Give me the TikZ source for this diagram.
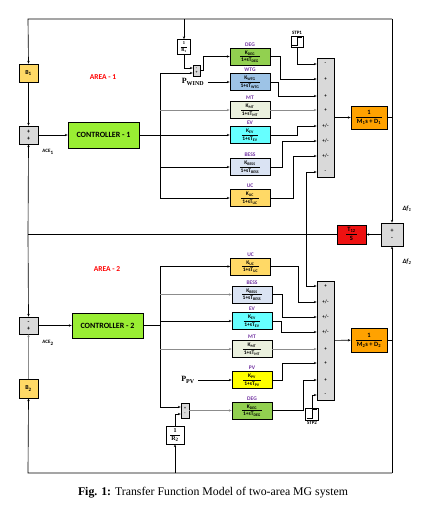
\documentclass[tikz,border=0pt]{standalone}
\usepackage{fontspec}
\setmainfont{Liberation Serif}
\setsansfont{Carlito}
\usepackage[HTML]{xcolor}
\usepackage{tikz}
\usetikzlibrary{positioning, arrows, arrows.meta}

\definecolor{degC}{HTML}{92D050}
\definecolor{wtgC}{HTML}{9DC3E6}
\definecolor{mtC}{HTML}{EBF1DE}
\definecolor{evC}{HTML}{66FFFF}
\definecolor{bessC}{HTML}{DAE3F3}
\definecolor{ucC}{HTML}{FFD966}
\definecolor{pvC}{HTML}{FFFF00}
\definecolor{ctrlC}{HTML}{99EE33}
\definecolor{sumC}{HTML}{D9D9D9}
\definecolor{plantC}{HTML}{FFA200}
\definecolor{tieC}{HTML}{EE1111}
\definecolor{lblC}{HTML}{7030A0}
\definecolor{areaC}{HTML}{FF0000}

\renewcommand{\arraystretch}{1.25}
\newcommand{\frc}[2]{\begin{tabular}{@{\,}c@{\,}}#1\\\hline #2\end{tabular}}

\begin{document}
\begin{tikzpicture}[x=1pt,y=-1pt,
  >={Stealth[length=2.8pt,width=2.4pt]},
  line width=0.65pt,
  blk/.style={draw,line width=0.75pt,inner sep=0pt,font=\sffamily\bfseries\fontsize{5.5}{6}\selectfont},
  tf/.style={blk,minimum width=40pt,minimum height=17pt},
  sumb/.style={blk,fill=sumC,align=center,font=\sffamily\bfseries\fontsize{6}{6}\selectfont},
  sgn/.style={inner sep=0pt,font=\sffamily\bfseries\fontsize{5}{5}\selectfont},
  lbl/.style={inner sep=1pt,font=\sffamily\bfseries\fontsize{5.5}{5.5}\selectfont,text=lblC},
  tag/.style={inner sep=1pt,font=\sffamily\bfseries\fontsize{5}{5}\selectfont},
  area/.style={font=\sffamily\bfseries\fontsize{7.5}{7.5}\selectfont,text=areaC},
  ctrl/.style={blk,fill=ctrlC,minimum width=71pt,minimum height=26pt,font=\sffamily\bfseries\fontsize{8}{8}\selectfont},
  gray/.style={draw=black!45}
]
\useasboundingbox (0,0) rectangle (426,522);

% corners of the outer loops
\coordinate (tl) at (28,19);
\coordinate (tr) at (392,19);
\coordinate (bl) at (28,473);
\coordinate (br) at (392,473);
\coordinate (tw) at (28,234.5);  % tie line, left end
\coordinate (tj) at (306,234.5); % tie line, branch
\coordinate (bus1) at (160,73);
\coordinate (bus2) at (160,407);

% ---------------- area 1
\node[sumb,fill=ucC,minimum width=19pt,minimum height=18pt] (b1) at (28.5,73) {B\textsubscript{1}};
\node[sumb,minimum width=19pt,minimum height=18pt] (ace1s) at (28.5,135) {+\\[1pt]+};
\node[tag] (ace1) at (48,152) {ACE\textsubscript{1}};
\node[area] (ar1) at (103,77) {AREA - 1};
\node[ctrl] (ctrl1) at (103.5,135) {CONTROLLER - 1};
\node[blk,minimum width=13pt,minimum height=15pt,font=\rmfamily\bfseries\fontsize{4.5}{5}\selectfont] (rinv1) at (184,47) {\frc{1}{R\textsubscript{1}}};
\node[sumb,minimum width=7pt,minimum height=11pt,font=\sffamily\bfseries\fontsize{4}{4}\selectfont] (sg1) at (196.5,70.5) {-\\+};
\node[font=\rmfamily\bfseries\fontsize{8}{8}\selectfont] (pw) at (193,82) {P\textsubscript{WIND}};

\node[tf,fill=degC,label={[lbl]above:DEG}] (deg1) at (250,56.5) {\frc{K\textsubscript{DEG}}{1+sT\textsubscript{DEG}}};
\node[tf,fill=wtgC,label={[lbl]above:WTG}] (wtg1) at (250,82) {\frc{K\textsubscript{WTG}}{1+sT\textsubscript{WTG}}};
\node[tf,fill=mtC,label={[lbl]above:MT}] (mt1) at (250,110) {\frc{K\textsubscript{MT}}{1+sT\textsubscript{MT}}};
\node[tf,fill=evC,label={[lbl]above:EV}] (ev1) at (250,135) {\frc{K\textsubscript{EV}}{1+sT\textsubscript{EV}}};
\node[tf,fill=bessC,label={[lbl]above:BESS}] (bess1) at (250,167) {\frc{K\textsubscript{BESS}}{1+sT\textsubscript{BESS}}};
\node[tf,fill=ucC,label={[lbl]above:UC}] (uc1) at (250,198) {\frc{K\textsubscript{UC}}{1+sT\textsubscript{UC}}};

\node[blk,minimum width=12pt,minimum height=11pt,label={[tag]above:STP1}] (stp1) at (297,41.5) {};
\draw[line width=0.5pt] ([shift={(1.5pt,2pt)}]stp1.south west) -| ([yshift=-2pt]stp1.north) -- ([shift={(-1.5pt,-2pt)}]stp1.north east);

% big summer of area 1
\node[blk,fill=sumC,minimum width=17pt,minimum height=119pt] (bs1) at (325.5,117.5) {};
\node[sgn] (s11) at (325.5,64) {-};
\node[sgn] (s12) at (325.5,79) {+};
\node[sgn] (s13) at (325.5,96) {+};
\node[sgn] (s14) at (325.5,110) {+};
\node[sgn] (s15) at (325.5,126) {+/-};
\node[sgn] (s16) at (325.5,141) {+/-};
\node[sgn] (s17) at (325.5,156) {+/-};
\node[sgn] (s18) at (325.5,172) {-};

\node[blk,fill=plantC,minimum width=36pt,minimum height=23pt,font=\sffamily\bfseries\fontsize{6.5}{7}\selectfont] (g1) at (369,117.5) {\frc{1}{M\textsubscript{1}s + D\textsubscript{1}}};

% tie line
\node[sumb,minimum width=22pt,minimum height=23pt] (ts) at (392,234.5) {+\\[1pt]-};
\node[blk,fill=tieC,minimum width=29pt,minimum height=19pt,font=\sffamily\bfseries\fontsize{6.5}{7}\selectfont] (t12) at (351.5,234.5) {\frc{T\textsubscript{12}}{S}};
\node[font=\sffamily\bfseries\itshape\fontsize{6.5}{6.5}\selectfont] (df1) at (407,209) {Δf\textsubscript{1}};
\node[font=\sffamily\bfseries\itshape\fontsize{6.5}{6.5}\selectfont] (df2) at (407,262) {Δf\textsubscript{2}};

% ---------------- area 2
\node[area] (ar2) at (107,269) {AREA - 2};
\node[sumb,minimum width=19pt,minimum height=17pt] (ace2s) at (28.5,325.5) {-\\[1pt]+};
\node[tag] (ace2) at (48,343) {ACE\textsubscript{2}};
\node[sumb,fill=ucC,minimum width=19pt,minimum height=19pt] (b2) at (28.5,388.5) {B\textsubscript{2}};
\node[ctrl,minimum height=25pt] (ctrl2) at (107.5,325.5) {CONTROLLER - 2};

\node[tf,fill=ucC,label={[lbl]above:UC}] (uc2) at (250.5,266.5) {\frc{K\textsubscript{UC}}{1+sT\textsubscript{UC}}};
\node[tf,fill=bessC,label={[lbl]above:BESS}] (bess2) at (252,294.5) {\frc{K\textsubscript{BESS}}{1+sT\textsubscript{BESS}}};
\node[tf,fill=evC,label={[lbl]above:EV}] (ev2) at (252,321) {\frc{K\textsubscript{EV}}{1+sT\textsubscript{EV}}};
\node[tf,fill=mtC,label={[lbl]above:MT}] (mt2) at (252,349) {\frc{K\textsubscript{MT}}{1+sT\textsubscript{MT}}};
\node[tf,fill=pvC,label={[lbl]above:PV}] (pv2) at (252,380) {\frc{K\textsubscript{PV}}{1+sT\textsubscript{PV}}};
\node[tf,fill=degC,label={[lbl]above:DEG}] (deg2) at (252,410.5) {\frc{K\textsubscript{DEG}}{1+sT\textsubscript{DEG}}};
\node[font=\rmfamily\bfseries\fontsize{8}{8}\selectfont] (ppv) at (188,380) {P\textsubscript{PV}};

\node[sumb,minimum width=8pt,minimum height=15pt,font=\sffamily\bfseries\fontsize{4}{4}\selectfont] (sg2) at (185,410.5) {+\\[1pt]-};
\node[blk,minimum width=18pt,minimum height=18pt,font=\rmfamily\bfseries\fontsize{6}{6}\selectfont] (rinv2) at (175,435) {\frc{1}{R\textsubscript{2}}};

\node[blk,minimum width=13pt,minimum height=12pt,label={[tag]below:STP2}] (stp2) at (312,414) {};
\draw[line width=0.5pt] ([shift={(1.5pt,2pt)}]stp2.south west) -| ([yshift=-2pt]stp2.north) -- ([shift={(-1.5pt,-2pt)}]stp2.north east);

% big summer of area 2
\node[blk,fill=sumC,minimum width=17pt,minimum height=119pt] (bs2) at (325.5,340.5) {};
\node[sgn] (s21) at (325.5,286) {+};
\node[sgn] (s22) at (325.5,302) {+/-};
\node[sgn] (s23) at (325.5,317) {+/-};
\node[sgn] (s24) at (325.5,332) {+/-};
\node[sgn] (s25) at (325.5,349) {+};
\node[sgn] (s26) at (325.5,363) {+};
\node[sgn] (s27) at (325.5,380) {+};
\node[sgn] (s28) at (325.5,395) {-};

\node[blk,fill=plantC,minimum width=36pt,minimum height=24pt,font=\sffamily\bfseries\fontsize{6.5}{7}\selectfont] (g2) at (369,340) {\frc{1}{M\textsubscript{2}s + D\textsubscript{2}}};

% ---------------- connectors, area 1
\draw[->] (tr) -- (tl) -- (b1.north);
\draw[->] (rinv1 |- tl) -- (rinv1.north);
\draw[->] (tr) -- (ts.north);
\draw (g1.east) -- (g1.east -| tr);
\draw[->] (b1) -- (ace1s);
\draw[->] (ace1s) -- (ctrl1);
\draw[->] (ctrl1) -- (ev1);
\draw[->] (rinv1.south) |- ([yshift=2.5pt]sg1.west);
\draw[->] (bus1) -- (bus1 -| sg1.west);
\draw[->] (bus1) |- (uc1.west);
\draw[->,gray] (bus1 |- mt1) -- (mt1.west);
\draw[->] (bus1 |- bess1) -- (bess1.west);
\draw[->] (sg1.east) -- ++(3,0) |- (deg1.west);
\draw[->] (pw) -- (wtg1);
\draw[->] (stp1.south) |- (s11 -| bs1.west);
\draw[->] (deg1.east) -- ++(10,0) |- (s12 -| bs1.west);
\draw[->] (wtg1.east) -- ++(8,0) |- (s13 -| bs1.west);
\draw[->,gray] (mt1.east) -- (s14 -| bs1.west);
\draw[->] (ev1.east) -- ++(27,0) |- (s15 -| bs1.west);
\draw[->] (bess1.east) -- ++(12,0) |- (s16 -| bs1.west);
\draw[->] (uc1.east) -- ++(23,0) |- (s17 -| bs1.west);
\draw[->] (bs1) -- (g1);

% tie line
\draw[->] (ts.west) -- (t12.east);
\draw (t12.west) -- (tw);
\draw[->] (tw) -- (ace1s.south);
\draw[->] (tw) -- (ace2s.north);
\draw[->] (tj) |- (s18 -| bs1.west);
\draw[->] (tj) |- (s21 -| bs2.west);

% ---------------- connectors, area 2
\draw[->] (br) -- (ts.south);
\draw (g2.east) -- (g2.east -| br);
\draw[->] (br) -- (bl) -- (b2.south);
\draw[->] (rinv2 |- bl) -- (rinv2.south);
\draw[->,gray] (b2) -- (ace2s);
\draw[->] (ace2s) -- (ctrl2);
\draw (ctrl2.east) -- (ctrl2.east -| bus2);
\draw[->] (bus2) -- (bus2 -| sg2.west);
\draw[->] (bus2) |- (uc2.west);
\draw[->,gray] (bus2 |- bess2) -- (bess2.west);
\draw[->] (bus2 |- ev2) -- (ev2.west);
\draw[->,gray] (bus2 |- mt2) -- (mt2.west);
\draw[->] (rinv2.north) |- ([yshift=-3.5pt]sg2.west);
\draw[->,gray] (sg2.east) -- (deg2.west);
\draw[->] (ppv) -- (pv2);
\draw[->] (uc2.east) -- ++(27,0) |- (s22 -| bs2.west);
\draw[->] (bess2.east) -- ++(10,0) |- (s23 -| bs2.west);
\draw[->] (ev2.east) -- ++(9,0) |- (s24 -| bs2.west);
\draw[->,gray] (mt2.east) -- (s25 -| bs2.west);
\draw[->] (pv2.east) -- ++(10,0) |- (s26 -| bs2.west);
\draw[->] (deg2.east) -- ++(31,0) |- (s27 -| bs2.west);
\draw[->] (stp2.north) |- (s28 -| bs2.west);
\draw[->] (bs2) -- (g2);

% caption
\node[font=\rmfamily\fontsize{11.8}{12}\selectfont] (cap) at (213,493) {\textbf{Fig. 1:} Transfer Function Model of two-area MG system};
\end{tikzpicture}
\end{document}
